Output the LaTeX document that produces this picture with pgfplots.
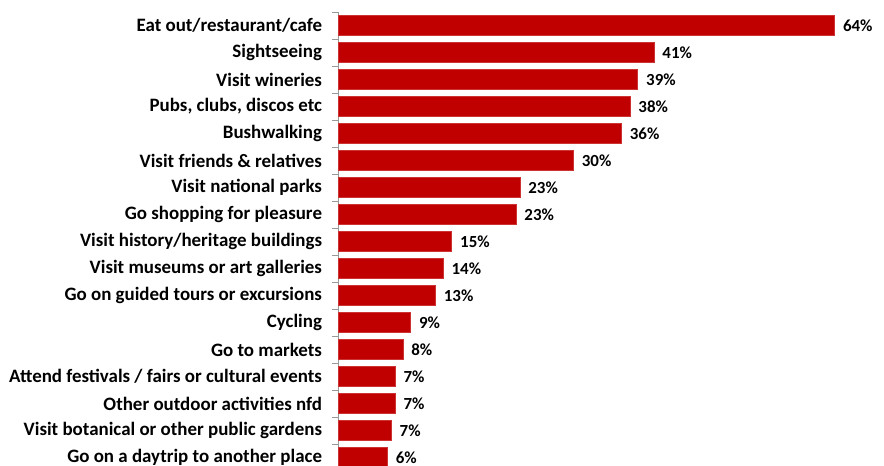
\documentclass[border=0pt]{standalone}
\usepackage{pgfplots}
\pgfplotsset{compat=1.18}
\usepackage{pgfplotstable}
\usepackage{fontspec}
\setmainfont{Carlito}
\definecolor{barred}{RGB}{192,0,0}

% bar ends (percent); lab = printed value
\pgfplotstableread{
y x lab
0 64.0 64
1 40.7 41
2 38.6 39
3 37.6 38
4 36.5 36
5 30.3 30
6 23.4 23
7 22.9 23
8 14.6 15
9 13.5 14
10 12.5 13
11 9.3 9
12 8.3 8
13 7.3 7
14 7.3 7
15 6.8 7
16 6.3 6
}\activities

\begin{document}
\begin{tikzpicture}[x=1bp,y=1bp]
\begin{axis}[
    at={(338.5bp,454bp)}, anchor=north west,
    scale only axis,
    width=542.5bp, height=459bp,
    xmin=0, xmax=70,
    ymin=-0.5, ymax=16.5,
    y dir=reverse,
    hide x axis,
    axis y line*=left,
    axis line style={draw=gray!80, line width=0.8pt},
    ytick={0,...,16},
    yticklabels={
        Eat out/restaurant/cafe,
        Sightseeing,
        Visit wineries,
        {Pubs, clubs, discos etc},
        Bushwalking,
        Visit friends \& relatives,
        Visit national parks,
        Go shopping for pleasure,
        Visit history/heritage buildings,
        Visit museums or art galleries,
        Go on guided tours or excursions,
        Cycling,
        Go to markets,
        Attend festivals / fairs or cultural events,
        Other outdoor activities nfd,
        Visit botanical or other public gardens,
        Go on a daytrip to another place},
    major tick length=0pt,
    minor ytick={-0.5,0.5,...,16.5},
    minor tick length=6bp,
    tick align=outside,
    minor tick style={draw=gray!80, line width=0.8pt},
    yticklabel style={font=\fontsize{19}{21}\selectfont\bfseries, xshift=-13bp},
    clip=false,
    ]
    \addplot[xbar, bar width=20bp, fill=barred, draw=barred!80!white, line width=0.4pt,
        point meta=explicit symbolic,
        nodes near coords={\pgfplotspointmeta\%},
        nodes near coords style={font=\fontsize{17}{19}\selectfont\bfseries, anchor=west, xshift=5bp},
        ] table[x=x, y=y, meta=lab] {\activities};
\end{axis}
\pgfresetboundingbox
\path[use as bounding box] (0,0) rectangle (884bp,466bp);
\end{tikzpicture}
\end{document}
